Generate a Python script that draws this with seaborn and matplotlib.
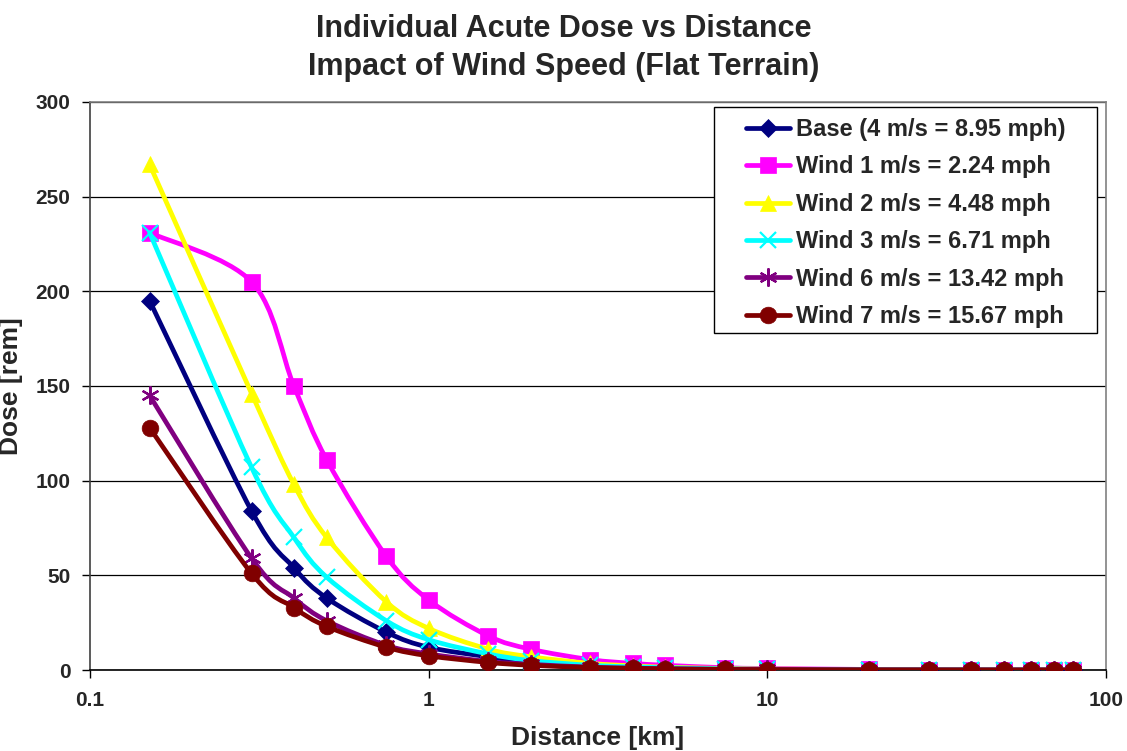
import numpy as np
import pandas as pd
import matplotlib
matplotlib.use("Agg")
import matplotlib.pyplot as plt
from matplotlib.path import Path
from matplotlib.patches import PathPatch, Rectangle
from matplotlib.lines import Line2D
import seaborn as sns

# ---------------- data ----------------
distance = [0.15, 0.3, 0.4, 0.5, 0.75, 1, 1.5, 2, 3, 4, 5, 7.5, 10, 20, 30, 40, 50, 60, 70, 80]

base_4ms = [195, 84, 54, 38, 20, 12, 7, 4.2, 2.2, 1.5, 1.0, 0.5, 0.3, 0.12, 0.08, 0.05, 0.04, 0.03, 0.03, 0.02]
wind_1ms = [231, 205, 150, 111, 60, 37, 18, 11, 5.5, 3.5, 2.5, 1.2, 0.8, 0.3, 0.2, 0.12, 0.1, 0.08, 0.07, 0.06]
wind_2ms = [267, 146, 98, 70, 36, 22, 11, 7, 3.5, 2.2, 1.5, 0.8, 0.5, 0.2, 0.12, 0.08, 0.06, 0.05, 0.04, 0.03]
wind_3ms = [231, 107, 70, 49, 26, 16, 8.5, 5, 2.5, 1.7, 1.2, 0.6, 0.4, 0.15, 0.1, 0.07, 0.05, 0.04, 0.03, 0.03]
wind_6ms = [145, 59, 38, 26, 13, 8.5, 4.5, 3, 1.5, 1.0, 0.7, 0.4, 0.3, 0.1, 0.06, 0.04, 0.03, 0.02, 0.02, 0.02]
wind_7ms = [128, 51, 33, 23, 12, 7.5, 4, 2.5, 1.3, 0.9, 0.6, 0.3, 0.2, 0.08, 0.05, 0.04, 0.03, 0.02, 0.02, 0.01]

series_names = ["Base (4 m/s = 8.95 mph)", "Wind 1 m/s = 2.24 mph", "Wind 2 m/s = 4.48 mph",
                "Wind 3 m/s = 6.71 mph", "Wind 6 m/s = 13.42 mph", "Wind 7 m/s = 15.67 mph"]
series_values = [base_4ms, wind_1ms, wind_2ms, wind_3ms, wind_6ms, wind_7ms]

y_ticks = [0, 50, 100, 150, 200, 250, 300]
x_ticks = [0.1, 1, 10, 100]
x_tick_labels = ["0.1", "1", "10", "100"]

# ---------------- style ----------------
colors = ["#000080", "#FF00FF", "#FFFF00", "#00FFFF", "#800080", "#800000"]
markers = ["D", "s", "^", "x", (6, 2, 0), "o"]
msizes = [9, 12, 12, 12, 13, 12]

sns.set_theme(style="white")
plt.rcParams["font.family"] = ["Liberation Sans", "DejaVu Sans"]
plt.rcParams["font.weight"] = "bold"

W, H = 1127, 751
fig = plt.figure(figsize=(W / 100, H / 100), dpi=100)
ax = fig.add_axes([90 / W, 1 - 670 / H, (1106 - 90) / W, (670 - 102) / H])

df = pd.DataFrame({"distance": distance})
for name, vals in zip(series_names, series_values):
    df[name] = vals


def smooth_path(xs, ys):
    """Excel-like smoothed line as cubic Bezier segments in (log10 x, y) space."""
    lx = np.log10(np.asarray(xs, float))
    yy = np.asarray(ys, float)
    n = len(lx)
    verts = [(xs[0], ys[0])]
    codes = [Path.MOVETO]
    for i in range(n - 1):
        i0 = max(i - 1, 0)
        i3 = min(i + 2, n - 1)
        c1x = lx[i] + (lx[i + 1] - lx[i0]) / 6.0
        c1y = yy[i] + (yy[i + 1] - yy[i0]) / 6.0
        c2x = lx[i + 1] - (lx[i3] - lx[i]) / 6.0
        c2y = yy[i + 1] - (yy[i3] - yy[i]) / 6.0
        verts += [(10 ** c1x, c1y), (10 ** c2x, c2y), (xs[i + 1], ys[i + 1])]
        codes += [Path.CURVE4, Path.CURVE4, Path.CURVE4]
    return Path(verts, codes)


LW = 3.4
handles = []
for k, (name, c, m, ms) in enumerate(zip(series_names, colors, markers, msizes)):
    z = 3 + 2 * k
    patch = PathPatch(smooth_path(df["distance"].values, df[name].values),
                      facecolor="none", edgecolor=c, linewidth=LW, zorder=z,
                      capstyle="round", joinstyle="round")
    ax.add_patch(patch)
    mew = 1.6 if m in ("x", (6, 2, 0)) else 0.5
    sns.lineplot(data=df, x="distance", y=name, ax=ax, color=c, marker=m,
                 markersize=ms, markeredgecolor=c, markerfacecolor=c,
                 markeredgewidth=mew, linestyle="none", zorder=z + 1, legend=False)
    handles.append(Line2D([0], [0], color=c, lw=LW, marker=m, markersize=ms,
                          markerfacecolor=c, markeredgecolor=c, markeredgewidth=mew))

ax.set_xscale("log")
ax.set_xlim(0.1, 100)
ax.set_ylim(0, 300)
ax.set_xticks(x_ticks)
ax.set_xticklabels(x_tick_labels)
ax.xaxis.set_minor_locator(matplotlib.ticker.NullLocator())
ax.set_yticks(y_ticks)
ax.tick_params(axis="both", which="major", direction="out", length=6, width=1,
               color="black", labelsize=15, pad=6, bottom=True, left=True)
ax.tick_params(axis="x", pad=9)
ax.tick_params(axis="y", pad=8)
for lab in ax.get_xticklabels() + ax.get_yticklabels():
    lab.set_fontweight("bold")

ax.yaxis.grid(True, color="black", linewidth=0.9)
ax.xaxis.grid(False)
ax.set_axisbelow(True)

for side in ["top", "right"]:
    ax.spines[side].set_color("#808080")
    ax.spines[side].set_linewidth(1.2)
ax.spines["left"].set_color("#404040")
ax.spines["left"].set_linewidth(1.2)
ax.spines["bottom"].set_color("black")
ax.spines["bottom"].set_linewidth(1.2)

ax.set_xlabel("Distance [km]", fontsize=19, fontweight="bold", labelpad=12)
ax.set_ylabel("Dose [rem]", fontsize=19, fontweight="bold")
ax.yaxis.set_label_coords(-0.066, 0.5)

fig.suptitle("Individual Acute Dose vs Distance\nImpact of Wind Speed (Flat Terrain)",
             x=0.5, y=0.981, fontsize=22, fontweight="bold", linespacing=1.32)

# legend frame (Excel-style box) and legend content
box_l, box_r, box_t, box_b = 714, 1097, 107, 333
frame = Rectangle((box_l / W, 1 - box_b / H), (box_r - box_l) / W, (box_b - box_t) / H,
                  transform=fig.transFigure, facecolor="white", edgecolor="black",
                  linewidth=1.0, zorder=19)
fig.add_artist(frame)
leg = ax.legend(handles, series_names, loc="center",
                bbox_to_anchor=((box_l + box_r) / 2 / W, 1 - ((box_t + box_b) / 2 + 3) / H),
                bbox_transform=fig.transFigure, frameon=False,
                handlelength=1.85, handletextpad=0.25,
                labelspacing=0.61, borderpad=0.2, prop={"weight": "bold", "size": 17})
leg.set_zorder(20)
fig.add_artist(leg)

fig.savefig("out.png", dpi=100, facecolor="white")
